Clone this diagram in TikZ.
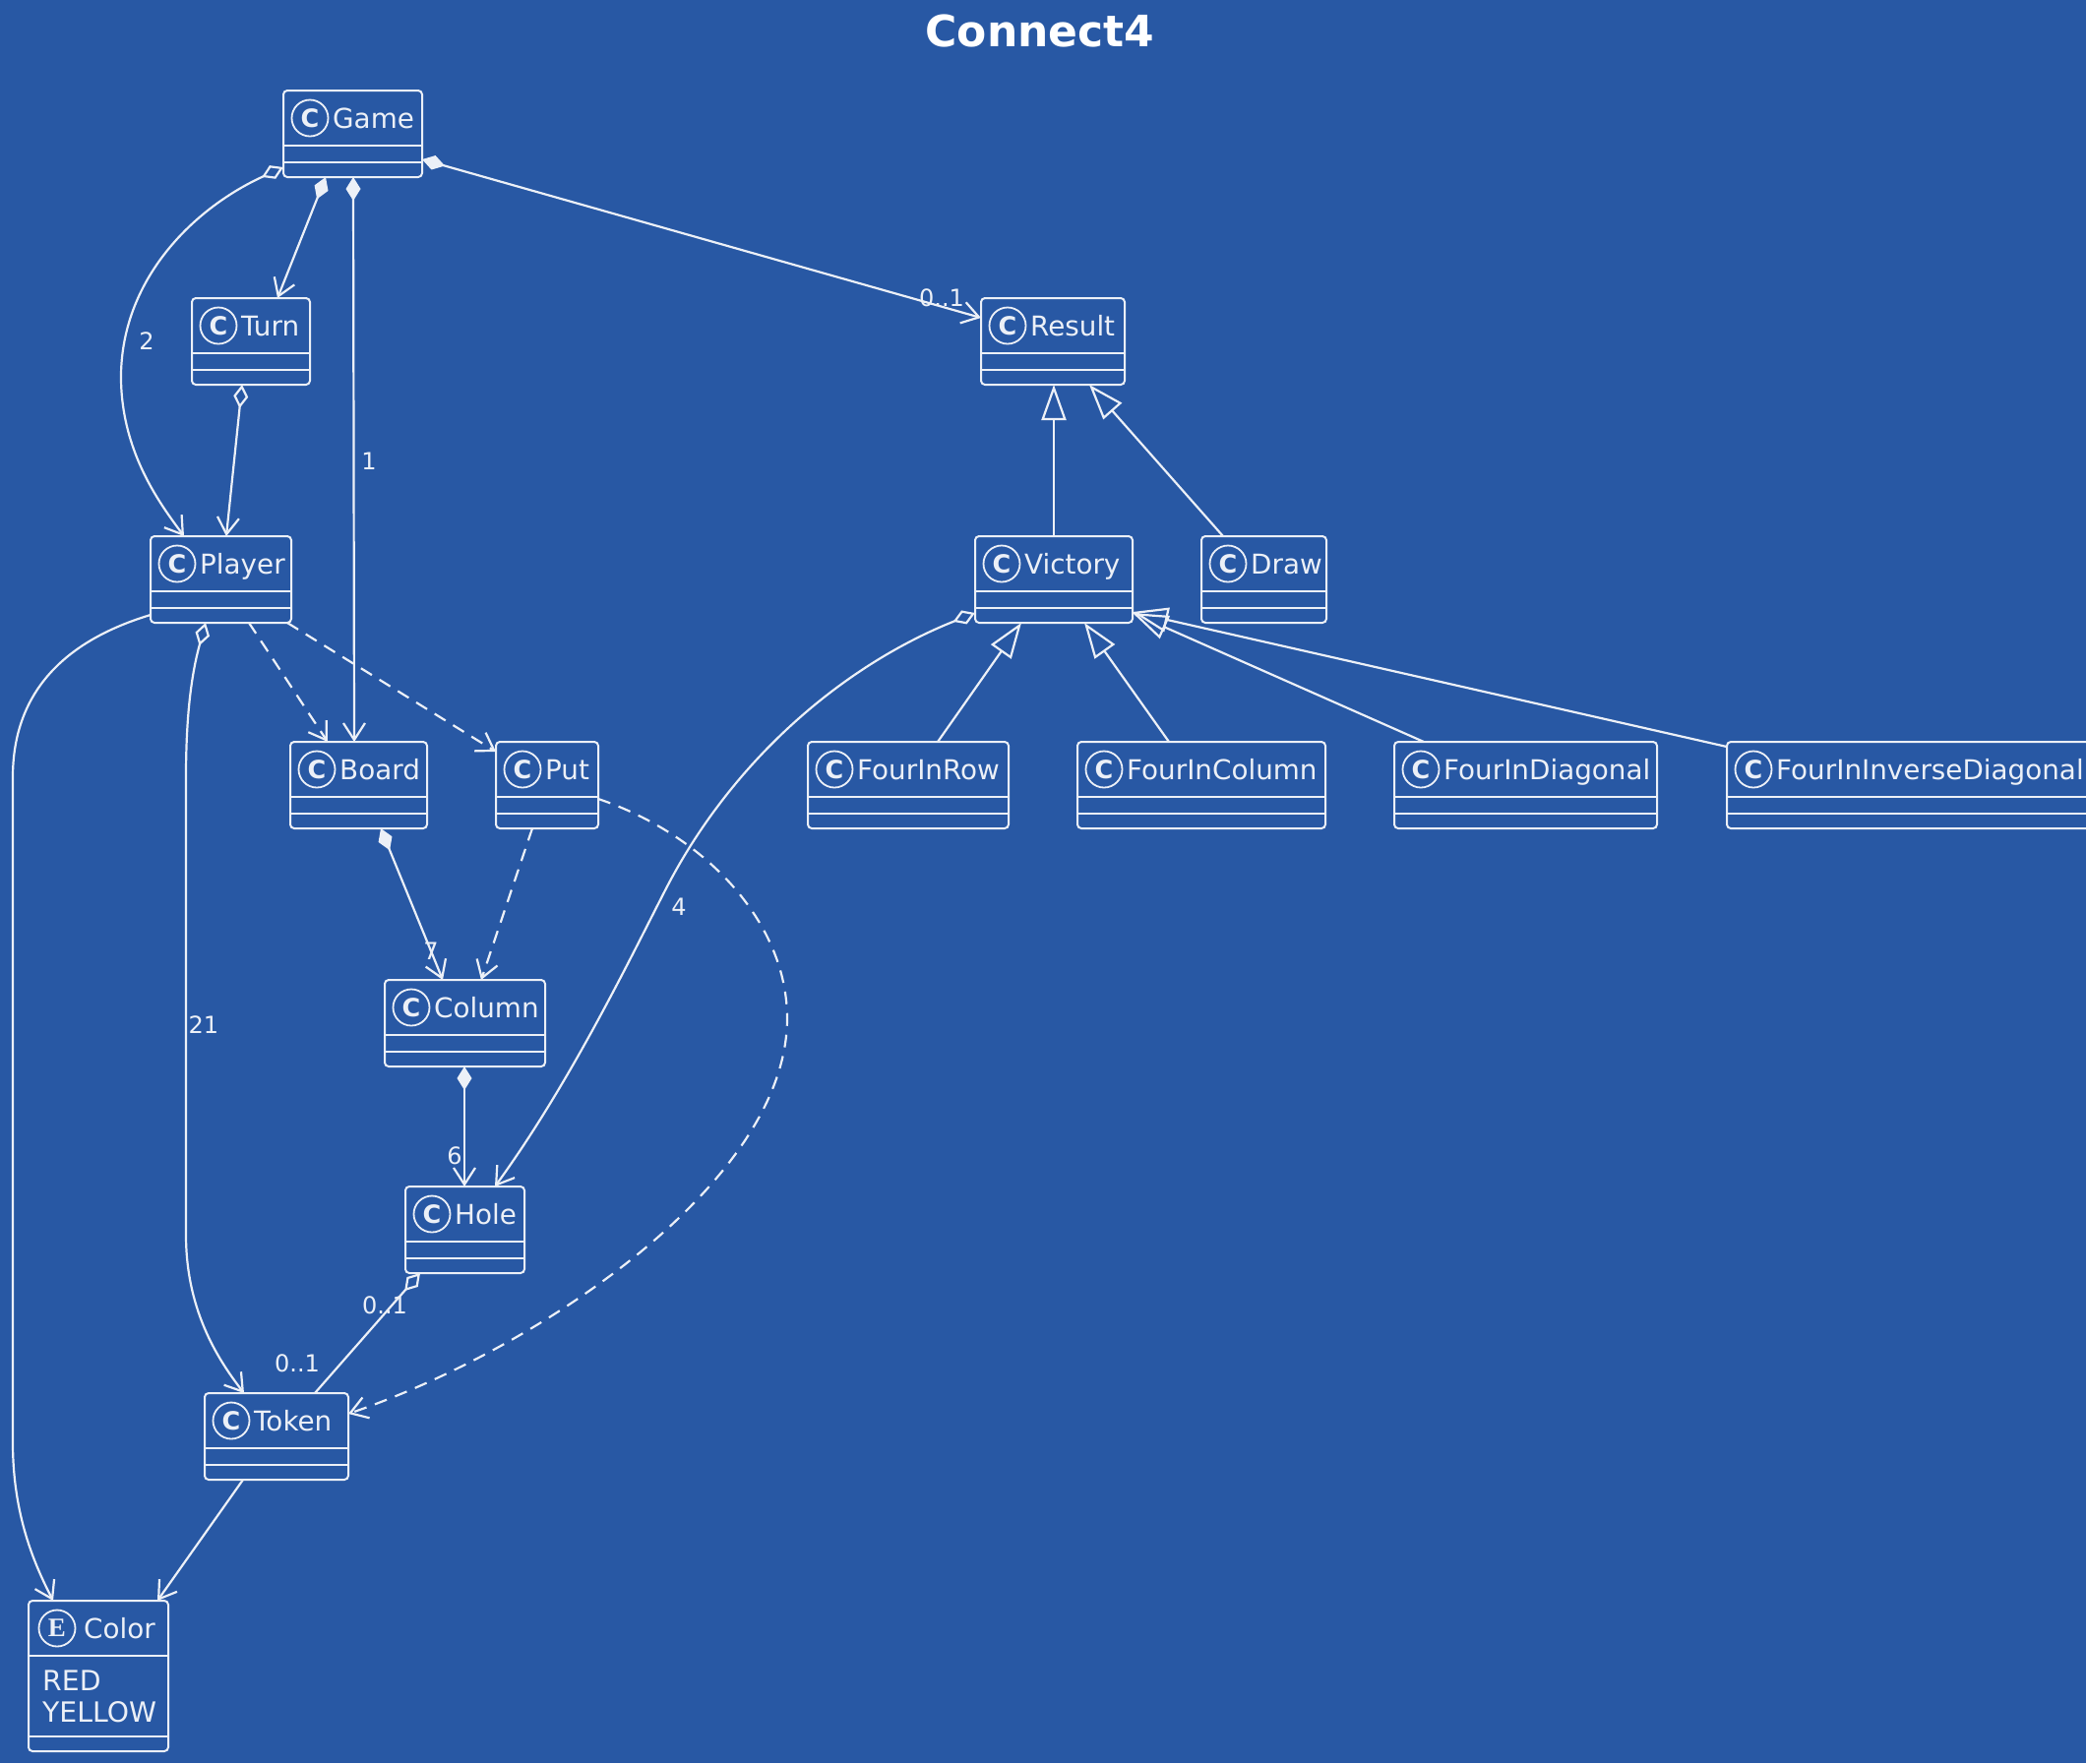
\documentclass[tikz,border=0pt]{standalone}
\usepackage{fontspec}
\setmainfont{DejaVu Sans}
\newfontfamily\enumletterfont{Liberation Serif}
\usetikzlibrary{arrows.meta,calc}

\definecolor{bgblue}{RGB}{40,88,164}
\definecolor{ink}{RGB}{236,240,247}

\tikzset{
  clsbox/.style={draw=ink, line width=2pt, rounded corners=4pt, minimum height=88pt,
    inner sep=0pt, outer sep=0pt, anchor=north west},
  enumbox/.style={clsbox, minimum height=153pt},
  sepline/.style={draw=ink, line width=2pt},
  iconring/.style={draw=ink, line width=1.8pt, circle, minimum size=37pt, inner sep=0pt,
    outer sep=0pt, text=ink, font=\fontsize{25.5}{25.5}\selectfont\bfseries},
  clsname/.style={anchor=base west, inner sep=0pt, text=ink, font=\fontsize{27.8}{32}\selectfont},
  constname/.style={anchor=base west, inner sep=0pt, text=ink, font=\fontsize{28.3}{32}\selectfont},
  mult/.style={inner sep=0pt, text=ink, font=\fontsize{24}{28}\selectfont},
  assoc/.style={draw=ink, line width=2.2pt},
  dep/.style={assoc, dash pattern=on 13pt off 9pt},
  ohead/.tip={Straight Barb[length=17pt,width=22pt]},
  odiam/.tip={Diamond[open,length=24pt,width=15pt]},
  fdiam/.tip={Diamond[length=24pt,width=15pt]},
  otri/.tip={Triangle[open,length=36pt,width=25pt]},
}

% class box: id, x, y (top left), width, name
\newcommand\umlclass[5]{%
  \node[clsbox, minimum width=#4pt] (#1) at (#2,#3) {};
  \draw[sepline] ($(#1.north west)+(0,56)$) -- ($(#1.north east)+(0,56)$);
  \draw[sepline] ($(#1.north west)+(0,73)$) -- ($(#1.north east)+(0,73)$);
  \node[iconring] (#1-icon) at ($(#1.north west)+(27,28)$) {C};
  \node[clsname] (#1-name) at ($(#1.north west)+(50,38)$) {#5};
}

\begin{document}
\begin{tikzpicture}[x=1pt,y=-1pt]
\fill[bgblue] (0,0) rectangle (2120,1792);
\useasboundingbox (0,0) rectangle (2120,1792);

\node[anchor=base, text=white, font=\fontsize{44}{50}\selectfont\bfseries] (title) at (1057,47) {Connect4};

% classes
\umlclass{game}{288}{92}{141}{Game}
\umlclass{turn}{195}{303}{120}{Turn}
\umlclass{player}{153}{545}{143}{Player}
\umlclass{board}{295}{754}{139}{Board}
\umlclass{put}{504}{754}{104}{Put}
\umlclass{column}{391}{996}{163}{Column}
\umlclass{hole}{412}{1206}{121}{Hole}
\umlclass{token}{208}{1416}{146}{Token}
\umlclass{result}{997}{303}{146}{Result}
\umlclass{victory}{991}{545}{160}{Victory}
\umlclass{draw}{1221}{545}{127}{Draw}
\umlclass{fourinrow}{821}{754}{204}{FourInRow}
\umlclass{fourincolumn}{1095}{754}{252}{FourInColumn}
\umlclass{fourindiagonal}{1417}{754}{267}{FourInDiagonal}
\umlclass{fourininversediagonal}{1755}{754}{372}{FourInInverseDiagonal}

% enumeration
\node[enumbox, minimum width=142pt] (color) at (29,1627) {};
\draw[sepline] ($(color.north west)+(0,56)$) -- ($(color.north east)+(0,56)$);
\draw[sepline] ($(color.north west)+(0,138)$) -- ($(color.north east)+(0,138)$);
\node[iconring, font=\fontsize{27}{27}\selectfont\enumletterfont\bfseries] (color-icon) at ($(color.north west)+(29,28)$) {E};
\node[clsname] (color-name) at ($(color.north west)+(56,38)$) {Color};
\node[constname] (color-red) at ($(color.north west)+(14,91)$) {RED};
\node[constname] (color-yellow) at ($(color.north west)+(14,123)$) {YELLOW};

% Game associations
\draw[assoc, arrows={odiam-ohead}] ($(game.north west)+(0,78)$)
  .. controls (200,210) and (125,280) .. (123,380)
  .. controls (122,460) and (165,515) .. ($(player.north west)+(34,0)$);
\node[mult] (m-game-player) at (149,347) {2};
\draw[assoc, arrows={fdiam-ohead}] ($(game.south west)+(43,0)$) -- ($(turn.north west)+(87,0)$);
\draw[assoc, arrows={fdiam-ohead}] ($(game.south west)+(71,0)$) -- ($(board.north west)+(65,0)$);
\node[mult] (m-game-board) at (375,469) {1};
\draw[assoc, arrows={fdiam-ohead}] ($(game.north east)+(0,70)$) -- ($(result.north west)+(0,20)$);
\node[mult] (m-game-result) at (957,303) {0..1};
\draw[assoc, arrows={odiam-ohead}] ($(turn.south west)+(51,0)$) -- ($(player.north west)+(77,0)$);

% Result hierarchy
\draw[assoc, arrows={-otri}] ($(victory.north west)+(80,0)$) -- ($(result.south west)+(74,0)$);
\draw[assoc, arrows={-otri}] ($(draw.north west)+(22,0)$) -- ($(result.south west)+(110,0)$);
\draw[assoc, arrows={-otri}] ($(fourinrow.north west)+(132,0)$) -- ($(victory.south west)+(47,0)$);
\draw[assoc, arrows={-otri}] ($(fourincolumn.north west)+(93,0)$) -- ($(victory.south west)+(111,0)$);
\draw[assoc, arrows={-otri}] ($(fourindiagonal.north west)+(30,0)$) -- ($(victory.north east)+(0,78)$);
\draw[assoc, arrows={-otri}] ($(fourininversediagonal.north west)+(0,5)$) -- ($(victory.north east)+(0,77)$);

% Victory to Hole
\draw[assoc, arrows={odiam-ohead}] ($(victory.north west)+(0,78)$)
  .. controls (860,675) and (745,770) .. (676,905)
  .. controls (640,975) and (580,1100) .. ($(hole.north west)+(91,0)$);
\node[mult] (m-victory-hole) at (690,922) {4};

% Player associations
\draw[assoc, arrows={-ohead}] ($(player.north west)+(0,80)$)
  .. controls (70,650) and (13,700) .. (13,790) -- (13,1466)
  .. controls (13,1540) and (35,1590) .. ($(color.north west)+(25,0)$);
\draw[assoc, arrows={odiam-ohead}] ($(player.south west)+(56,0)$)
  .. controls (196,680) and (189,720) .. (189,790) -- (189,1255)
  .. controls (189,1330) and (220,1380) .. ($(token.north west)+(40,0)$);
\node[mult] (m-player-token) at (207,1042) {21};
\draw[dep, arrows={-ohead}] ($(player.south west)+(100,0)$) -- ($(board.north west)+(38,0)$);
\draw[dep, arrows={-ohead}] ($(player.south east)+(-4,0)$) -- ($(put.north west)+(0,10)$);

% Board, Put, Column, Hole, Token
\draw[assoc, arrows={fdiam-ohead}] ($(board.south west)+(92,0)$) -- ($(column.north west)+(59,0)$);
\node[mult] (m-board-column) at (438,967) {7};
\draw[dep, arrows={-ohead}] ($(put.south west)+(37,0)$) -- ($(column.north west)+(98,0)$);
\draw[dep, arrows={-ohead}] ($(put.north east)+(0,58)$)
  .. controls (720,850) and (800,940) .. (800,1035)
  .. controls (800,1200) and (550,1370) .. ($(token.north east)+(0,21)$);
\draw[assoc, arrows={fdiam-ohead}] ($(column.south west)+(81,0)$) -- ($(hole.north west)+(60,0)$);
\node[mult] (m-column-hole) at (462,1175) {6};
\draw[assoc, arrows={odiam-}] ($(hole.south west)+(15,0)$) -- ($(token.north west)+(112,0)$);
\node[mult] (m-hole-side) at (391,1327) {0..1};
\node[mult] (m-token-side) at (302,1386) {0..1};
\draw[assoc, arrows={-ohead}] ($(token.south west)+(39,0)$) -- ($(color.north west)+(131,0)$);
\end{tikzpicture}
\end{document}
